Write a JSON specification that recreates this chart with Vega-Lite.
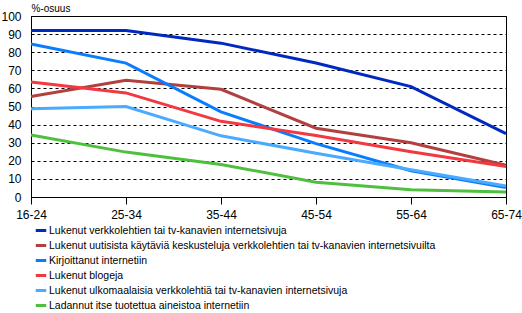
{
  "$schema": "https://vega.github.io/schema/vega-lite/v6.json",
  "width": 475,
  "height": 181,
  "autosize": "none",
  "padding": {"left": 31, "top": 16, "right": 16, "bottom": 116},
  "background": "white",
  "config": {
    "font": "Liberation Sans",
    "view": {"stroke": "black", "strokeWidth": 1}
  },
  "data": {
    "values": [
      {"age": "16-24", "s": "Lukenut verkkolehtien tai tv-kanavien internetsivuja", "v": 92},
      {"age": "25-34", "s": "Lukenut verkkolehtien tai tv-kanavien internetsivuja", "v": 92},
      {"age": "35-44", "s": "Lukenut verkkolehtien tai tv-kanavien internetsivuja", "v": 85},
      {"age": "45-54", "s": "Lukenut verkkolehtien tai tv-kanavien internetsivuja", "v": 74},
      {"age": "55-64", "s": "Lukenut verkkolehtien tai tv-kanavien internetsivuja", "v": 61},
      {"age": "65-74", "s": "Lukenut verkkolehtien tai tv-kanavien internetsivuja", "v": 35},
      {"age": "16-24", "s": "Lukenut uutisista käytäviä keskusteluja verkkolehtien tai tv-kanavien internetsivuilta", "v": 55.5},
      {"age": "25-34", "s": "Lukenut uutisista käytäviä keskusteluja verkkolehtien tai tv-kanavien internetsivuilta", "v": 64.5},
      {"age": "35-44", "s": "Lukenut uutisista käytäviä keskusteluja verkkolehtien tai tv-kanavien internetsivuilta", "v": 59.5},
      {"age": "45-54", "s": "Lukenut uutisista käytäviä keskusteluja verkkolehtien tai tv-kanavien internetsivuilta", "v": 38},
      {"age": "55-64", "s": "Lukenut uutisista käytäviä keskusteluja verkkolehtien tai tv-kanavien internetsivuilta", "v": 30},
      {"age": "65-74", "s": "Lukenut uutisista käytäviä keskusteluja verkkolehtien tai tv-kanavien internetsivuilta", "v": 17.5},
      {"age": "16-24", "s": "Kirjoittanut internetiin", "v": 84.5},
      {"age": "25-34", "s": "Kirjoittanut internetiin", "v": 74},
      {"age": "35-44", "s": "Kirjoittanut internetiin", "v": 47},
      {"age": "45-54", "s": "Kirjoittanut internetiin", "v": 29.5},
      {"age": "55-64", "s": "Kirjoittanut internetiin", "v": 14.5},
      {"age": "65-74", "s": "Kirjoittanut internetiin", "v": 5.2},
      {"age": "16-24", "s": "Lukenut blogeja", "v": 63.5},
      {"age": "25-34", "s": "Lukenut blogeja", "v": 57.5},
      {"age": "35-44", "s": "Lukenut blogeja", "v": 41.8},
      {"age": "45-54", "s": "Lukenut blogeja", "v": 34},
      {"age": "55-64", "s": "Lukenut blogeja", "v": 25},
      {"age": "65-74", "s": "Lukenut blogeja", "v": 16.8},
      {"age": "16-24", "s": "Lukenut ulkomaalaisia verkkolehtiä tai tv-kanavien internetsivuja", "v": 48.8},
      {"age": "25-34", "s": "Lukenut ulkomaalaisia verkkolehtiä tai tv-kanavien internetsivuja", "v": 50},
      {"age": "35-44", "s": "Lukenut ulkomaalaisia verkkolehtiä tai tv-kanavien internetsivuja", "v": 33.8},
      {"age": "45-54", "s": "Lukenut ulkomaalaisia verkkolehtiä tai tv-kanavien internetsivuja", "v": 24.2},
      {"age": "55-64", "s": "Lukenut ulkomaalaisia verkkolehtiä tai tv-kanavien internetsivuja", "v": 15},
      {"age": "65-74", "s": "Lukenut ulkomaalaisia verkkolehtiä tai tv-kanavien internetsivuja", "v": 6.1},
      {"age": "16-24", "s": "Ladannut itse tuotettua aineistoa internetiin", "v": 34.2},
      {"age": "25-34", "s": "Ladannut itse tuotettua aineistoa internetiin", "v": 24.8},
      {"age": "35-44", "s": "Ladannut itse tuotettua aineistoa internetiin", "v": 18},
      {"age": "45-54", "s": "Ladannut itse tuotettua aineistoa internetiin", "v": 8.2},
      {"age": "55-64", "s": "Ladannut itse tuotettua aineistoa internetiin", "v": 4},
      {"age": "65-74", "s": "Ladannut itse tuotettua aineistoa internetiin", "v": 2.8}
    ]
  },
  "mark": {"type": "line", "strokeWidth": 3, "strokeJoin": "miter"},
  "encoding": {
    "x": {
      "field": "age",
      "type": "ordinal",
      "scale": {"type": "point", "padding": 0},
      "axis": {
        "title": null,
        "labelAngle": 0,
        "labelFont": "Liberation Sans",
        "labelFontSize": 12,
        "labelColor": "black",
        "labelPadding": 5,
        "tickSize": 7,
        "tickColor": "black",
        "domainColor": "black",
        "grid": false
      }
    },
    "y": {
      "field": "v",
      "type": "quantitative",
      "scale": {"domain": [0, 100], "nice": false, "zero": true},
      "axis": {
        "values": [0, 10, 20, 30, 40, 50, 60, 70, 80, 90, 100],
        "title": "%-osuus",
        "titleAngle": 0,
        "titleX": 0,
        "titleY": -8,
        "titleAlign": "left",
        "titleBaseline": "middle",
        "titleFont": "Liberation Sans",
        "titleFontSize": 10,
        "titleFontWeight": "normal",
        "titleColor": "black",
        "labelFont": "Liberation Sans",
        "labelFontSize": 12,
        "labelColor": "black",
        "labelPadding": 10,
        "tickSize": 0,
        "domainColor": "black",
        "grid": true,
        "gridColor": "black",
        "gridDash": [3, 3],
        "gridWidth": 1,
        "gridOpacity": 1
      }
    },
    "color": {
      "field": "s",
      "type": "nominal",
      "sort": null,
      "scale": {
        "domain": [
          "Lukenut verkkolehtien tai tv-kanavien internetsivuja",
          "Lukenut uutisista käytäviä keskusteluja verkkolehtien tai tv-kanavien internetsivuilta",
          "Kirjoittanut internetiin",
          "Lukenut blogeja",
          "Lukenut ulkomaalaisia verkkolehtiä tai tv-kanavien internetsivuja",
          "Ladannut itse tuotettua aineistoa internetiin"
        ],
        "range": ["#0029c2", "#b2403f", "#0a7dff", "#f23841", "#4aaaff", "#4fbf3f"]
      },
      "legend": {
        "title": null,
        "orient": "none",
        "legendX": 3,
        "legendY": 209,
        "padding": 0,
        "symbolType": "stroke",
        "symbolSize": 110,
        "symbolStrokeWidth": 3,
        "symbolOffset": 0,
        "labelOffset": 1,
        "labelFont": "Liberation Sans",
        "labelFontSize": 10.5,
        "labelColor": "black",
        "labelLimit": 600,
        "rowPadding": 4,
        "clipHeight": 11
      }
    }
  }
}
